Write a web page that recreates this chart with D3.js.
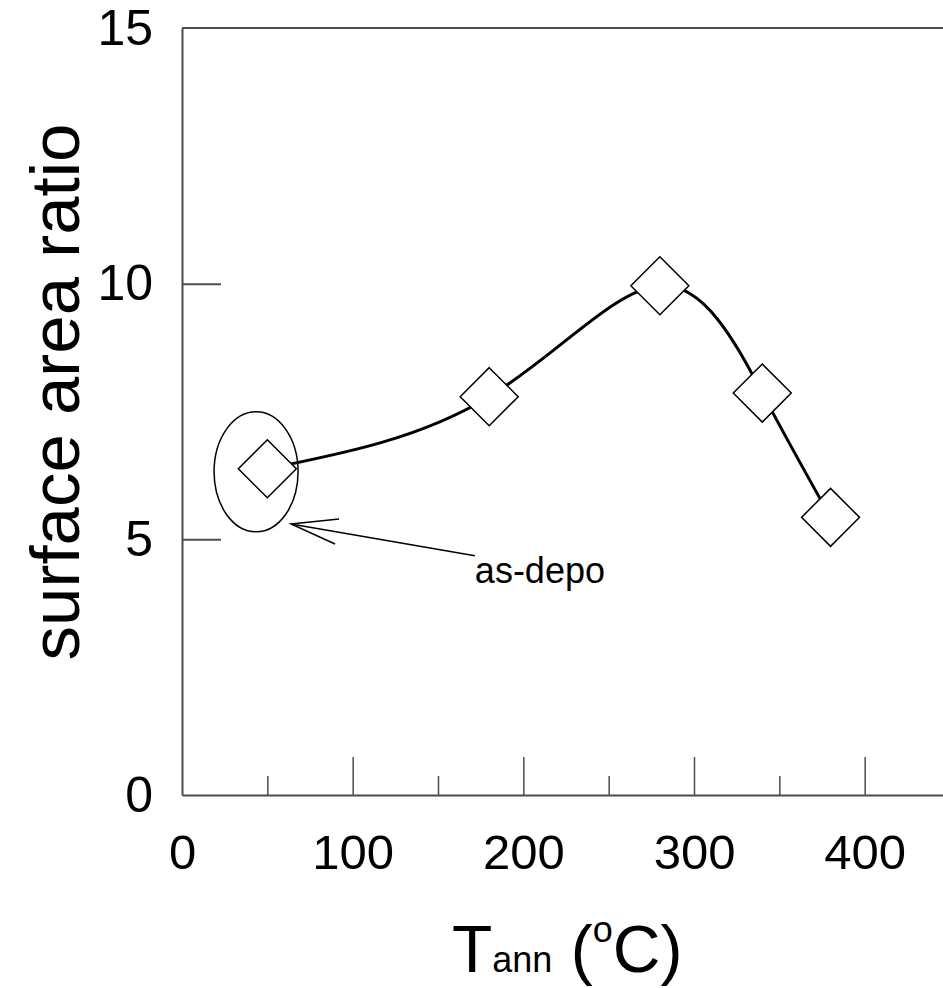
<!DOCTYPE html>
<html>
<head>
<meta charset="utf-8">
<script src="https://cdn.jsdelivr.net/npm/d3@7"></script>
<style>
html,body{margin:0;padding:0;background:#fff;}
svg{display:block;font-family:"Liberation Sans",Arial,sans-serif;}
</style>
</head>
<body>
<svg id="chart" width="943" height="988"></svg>
<script>
// data
const temps = [50, 180, 280, 340, 380];
const ratios = [6.38, 7.79, 9.96, 7.86, 5.43];
const xMajorTicks = [0, 100, 200, 300, 400];
const xMinorTicks = [50, 150, 250, 350];
const yTicks = [0, 5, 10, 15];
const annotationText = "as-depo";
const ellipseCenter = [43.4, 6.32];
const arrowTip = [63.9, 5.30];
const arrowTail = [171.6, 4.68];
const labelPos = [171.6, 4.15];

const svg = d3.select("#chart");
const x = d3.scaleLinear().domain([0, 450]).range([182, 950]);
const y = d3.scaleLinear().domain([0, 15]).range([795, 28]);
const axisColor = "#4d4d4d";

// frame (top border)
svg.append("line").attr("x1", x(0)).attr("x2", x(450)).attr("y1", y(15)).attr("y2", y(15))
  .attr("stroke", axisColor).attr("stroke-width", 2);

// x axis
const xAxis = d3.axisBottom(x).tickValues(xMajorTicks).tickSize(-38).tickSizeOuter(0).tickPadding(0).tickFormat(d3.format("d"));
const gx = svg.append("g").attr("transform", `translate(0,${y(0)})`).call(xAxis);
gx.select(".domain").attr("stroke", axisColor).attr("stroke-width", 2);
gx.selectAll(".tick line").attr("stroke", axisColor).attr("stroke-width", 1.5);
gx.selectAll(".tick").filter(d => d === 0).select("line").remove();
gx.selectAll(".tick text").attr("font-size", 49).attr("fill", "#000").attr("dy", null).attr("y", 74)
  .attr("font-family", "Liberation Sans, Arial, sans-serif");
const xMinor = d3.axisBottom(x).tickValues(xMinorTicks).tickSize(-19).tickSizeOuter(0).tickFormat("");
const gxm = svg.append("g").attr("transform", `translate(0,${y(0)})`).call(xMinor);
gxm.select(".domain").remove();
gxm.selectAll(".tick line").attr("stroke", axisColor).attr("stroke-width", 1.5);

// y axis
const yAxis = d3.axisLeft(y).tickValues(yTicks).tickSize(-39).tickSizeOuter(0).tickPadding(29).tickFormat(d3.format("d"));
const gy = svg.append("g").attr("transform", `translate(${x(0)},0)`).call(yAxis);
gy.select(".domain").attr("stroke", axisColor).attr("stroke-width", 2);
gy.selectAll(".tick line").attr("stroke", axisColor).attr("stroke-width", 2);
gy.selectAll(".tick").filter(d => d === 0 || d === 15).select("line").remove();
gy.selectAll(".tick text").attr("font-size", 50).attr("fill", "#000")
  .attr("font-family", "Liberation Sans, Arial, sans-serif");

// curve
const pts = temps.map((t, i) => [t, ratios[i]]);
const line = d3.line().x(d => x(d[0])).y(d => y(d[1])).curve(d3.curveNatural);
svg.append("path").attr("d", line(pts)).attr("fill", "none").attr("stroke", "#000").attr("stroke-width", 3);

// diamonds
const r = 29;
svg.selectAll(".pt").data(pts).enter().append("path")
  .attr("d", `M0,${-r}L${r},0L0,${r}L${-r},0Z`)
  .attr("transform", d => `translate(${x(d[0])},${y(d[1])})`)
  .attr("fill", "#fff").attr("stroke", "#000").attr("stroke-width", 1.5);

// annotation
svg.append("ellipse").attr("cx", x(ellipseCenter[0])).attr("cy", y(ellipseCenter[1]))
  .attr("rx", 42).attr("ry", 60).attr("fill", "none").attr("stroke", "#000").attr("stroke-width", 1.5);
const tx = x(arrowTip[0]), ty = y(arrowTip[1]);
svg.append("line").attr("x1", x(arrowTail[0])).attr("y1", y(arrowTail[1])).attr("x2", tx).attr("y2", ty)
  .attr("stroke", "#000").attr("stroke-width", 1.5);
svg.append("path").attr("d", `M${tx + 48},${ty - 5}L${tx},${ty}L${tx + 44},${ty + 20}`)
  .attr("fill", "none").attr("stroke", "#000").attr("stroke-width", 1.5);
svg.append("text").attr("x", x(labelPos[0])).attr("y", y(labelPos[1]))
  .attr("font-size", 36).attr("fill", "#000").text(annotationText);

// axis titles
svg.append("text").attr("transform", "translate(79,392) rotate(-90)").attr("text-anchor", "middle")
  .attr("font-size", 69).attr("fill", "#000").text("surface area ratio");
const xt = svg.append("text").attr("x", 452).attr("y", 972).attr("fill", "#000").attr("font-size", 66);
xt.append("tspan").text("T");
xt.append("tspan").attr("font-size", 36).text("ann");
xt.append("tspan").text(" (");
xt.append("tspan").attr("font-size", 36).attr("dy", -30).text("o");
xt.append("tspan").attr("dy", 30).text("C)");
</script>
</body>
</html>
